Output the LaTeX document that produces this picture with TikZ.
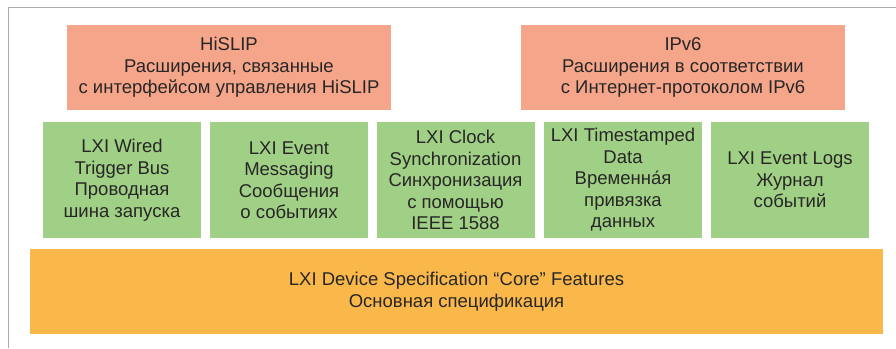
\documentclass[tikz,border=0pt]{standalone}
\usepackage{fontspec}
\setmainfont{Liberation Sans}
\usepackage{xcolor}
\usepackage{tikz}

\definecolor{extsalmon}{RGB}{245,166,138}
\definecolor{lxigreen}{RGB}{160,208,133}
\definecolor{coreorange}{RGB}{250,184,74}
\definecolor{inkgray}{RGB}{40,38,38}
\definecolor{framegray}{RGB}{172,172,172}

\tikzset{
  blockbox/.style={inner sep=0pt, align=center, text=inkgray,
    font=\fontsize{18.5}{21.5}\selectfont},
  extbox/.style={blockbox, fill=extsalmon, minimum width=324pt, minimum height=85pt},
  featbox/.style={blockbox, fill=lxigreen, minimum width=158pt, minimum height=116pt},
  corebox/.style={blockbox, fill=coreorange, minimum width=853pt, minimum height=85pt}
}

\begin{document}
\begin{tikzpicture}[x=1pt,y=-1pt]
% рамка и размеры картинки
\useasboundingbox (0,0) rectangle (896,348);
\coordinate (Ftop) at (896,7.5);
\coordinate (Fcorner) at (8.5,7.5);
\coordinate (Fbottom) at (8.5,348);
\draw[framegray, line width=1.5pt] (Ftop) -- (Fcorner) -- (Fbottom);

% расширения
\node[extbox] (hislip) at (229,67.5) {HiSLIP\\Расширения, связанные\\с интерфейсом управления HiSLIP};
\node[extbox] (ipv6) at (683,67.5) {IPv6\\Расширения в соответствии\\с Интернет-протоколом IPv6};

% функции LXI
\node[featbox] (wired) at (122,180) {LXI Wired\\Trigger Bus\\Проводная\\шина запуска};
\node[featbox] (event) at (289,180) {LXI Event\\Messaging\\Сообщения\\о событиях};
\node[featbox] (clock) at (455.5,180) {LXI Clock\\Synchronization\\Синхронизация\\с помощью\\IEEE 1588};
\node[featbox] (stamp) at (623,180) {LXI Timestamped\\Data\\Временна́я\\привязка\\данных};
\node[featbox] (logs) at (790,180) {LXI Event Logs\\Журнал\\событий};

% основа
\node[corebox] (core) at (456.5,291.5) {LXI Device Specification “Core” Features\\Основная спецификация};
\end{tikzpicture}
\end{document}
